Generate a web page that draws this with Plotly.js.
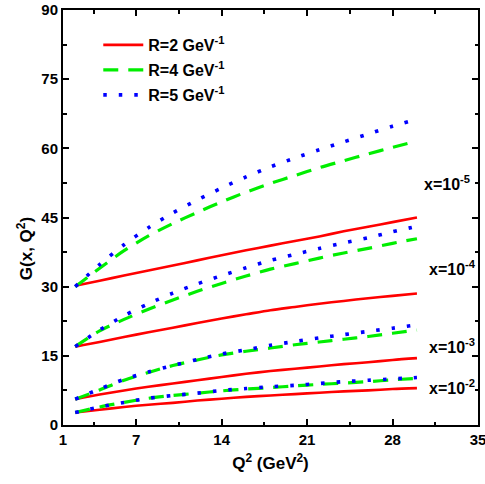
<!DOCTYPE html>
<html><head><meta charset="utf-8">
<script src="https://cdn.plot.ly/plotly-3.0.1.min.js"></script>
<style>html,body{margin:0;padding:0;background:#fff}#c{width:485px;height:484px}</style>
</head><body><div id="c"></div>
<script>
const Q2 = [2,4,6,8,10,12,14,16,18,20,22,24,26,28,30];

// x = 1e-5
const R2_x5 = [30.2,31.3,32.4,33.5,34.6,35.7,36.8,37.9,38.9,39.9,40.9,42.0,43.0,44.0,45.0];
const R4_x5 = [30.0,34.0,37.8,41.0,43.7,46.1,48.4,50.5,52.4,54.1,55.8,57.3,58.8,60.2,61.6];
const R5_x5 = [30.0,34.8,39.1,42.8,46.0,48.8,51.4,53.8,56.0,57.9,59.7,61.4,63.1,64.8,66.3];
// x = 1e-4
const R2_x4 = [17.0,18.0,19.1,20.1,21.1,22.1,23.1,24.0,24.9,25.6,26.3,26.9,27.5,28.0,28.5];
const R4_x4 = [17.0,20.4,22.9,25.1,27.1,29.0,30.7,32.3,33.8,35.0,36.2,37.3,38.3,39.4,40.4];
const R5_x4 = [17.0,20.6,23.7,26.3,28.6,30.6,32.4,34.1,35.7,37.0,38.3,39.5,40.6,41.9,43.1];
// x = 1e-3
const R2_x3 = [5.6,6.6,7.5,8.3,9.0,9.7,10.4,11.1,11.7,12.2,12.7,13.2,13.6,14.1,14.5];
const R4_x3 = [5.6,7.6,9.7,11.4,12.9,14.1,15.2,16.0,16.7,17.4,18.0,18.6,19.2,19.9,20.6];
const R5_x3 = [5.6,7.8,9.9,11.5,12.9,14.2,15.4,16.3,17.3,18.1,18.9,19.6,20.3,21.0,21.7];
// x = 1e-2
const R2_x2 = [2.7,3.3,3.9,4.4,4.8,5.3,5.7,6.1,6.4,6.7,7.0,7.3,7.5,7.8,8.0];
const R4_x2 = [2.7,3.9,4.9,5.8,6.4,6.9,7.4,7.8,8.1,8.5,8.8,9.1,9.4,9.8,10.1];
const R5_x2 = [2.7,3.9,4.9,5.8,6.4,6.9,7.5,7.9,8.3,8.6,9.0,9.4,9.7,10.0,10.3];

const seriesNames = ['R=2 GeV<sup>-1</sup>','R=4 GeV<sup>-1</sup>','R=5 GeV<sup>-1</sup>'];
const xLabels = ['x=10<sup>-5</sup>','x=10<sup>-4</sup>','x=10<sup>-3</sup>','x=10<sup>-2</sup>'];
const xLabelPos = [[32.5,52.5],[32.9,34.0],[32.9,17.1],[32.9,8.2]];
const xTickVals = [1,7,14,21,28,35];
const xTickText = ['1','7','14','21','28','35'];
const yTitle = 'G(x, Q<sup>2</sup>)';
const xTitle = 'Q<sup>2</sup> (GeV<sup>2</sup>)';

const groups = [
  [R2_x5,R4_x5,R5_x5],
  [R2_x4,R4_x4,R5_x4],
  [R2_x3,R4_x3,R5_x3],
  [R2_x2,R4_x2,R5_x2]
];
const styles = [
  {color:'#ff0000', width:2.6, dash:'solid'},
  {color:'#00ee00', width:3.2, dash:'15px,10px'},
  {color:'#0000ff', width:3.6, dash:'3.5px,12px'}
];
const legendIds = ['legend','legend2','legend3'];

const traces = [];
groups.forEach((g,gi)=>{
  [0,1,2].forEach(si=>{
    traces.push({
      x:Q2, y:g[si], type:'scatter', mode:'lines',
      line:Object.assign({shape:'spline', smoothing:0.8}, styles[si]),
      name:seriesNames[si], showlegend: gi===0, legend: legendIds[si],
      hoverinfo:'skip'
    });
  });
});

const fontFam = '"Liberation Sans", Arial, sans-serif';
const axBase = {
  showgrid:false, zeroline:false, showline:true, linecolor:'#000', linewidth:2,
  mirror:'allticks', ticks:'inside', ticklen:6, tickwidth:2, tickcolor:'#000',
  ticklabeloverflow:'allow',
  tickfont:{family:fontFam, size:15, color:'#000', weight:700}
};
const legFont = {family:fontFam, size:16, color:'#000', weight:700};
const legY = [0.9157, 0.8554, 0.7952];
const mkLeg = y => ({x:0.085, y:y, xanchor:'left', yanchor:'middle', bgcolor:'rgba(0,0,0,0)',
  font:legFont, itemwidth:40});

const annots = xLabels.map((t,i)=>({
  x:xLabelPos[i][0], y:xLabelPos[i][1], xref:'x', yref:'y', text:t, showarrow:false,
  font:{family:fontFam, size:16, color:'#000', weight:700}
}));
annots.push({
  x:-0.0916, y:0.426, xref:'paper', yref:'paper', text:yTitle, textangle:-90,
  showarrow:false, xanchor:'center', yanchor:'middle',
  font:{family:fontFam, size:17, color:'#000', weight:700}
});

const layout = {
  width:485, height:484,
  margin:{l:63, r:7, t:10, b:59},
  paper_bgcolor:'#fff', plot_bgcolor:'#fff',
  showlegend:true,
  legend:mkLeg(legY[0]), legend2:mkLeg(legY[1]), legend3:mkLeg(legY[2]),
  xaxis:Object.assign({}, axBase, {
    range:[1,35.002], tickmode:'array', tickvals:xTickVals, ticktext:xTickText,
    minor:{tick0:0, dtick:3.5, ticks:'inside', ticklen:3.5, tickwidth:2, tickcolor:'#000'},
    title:{text:xTitle, font:{family:fontFam, size:17, color:'#000', weight:700}, standoff:10}
  }),
  yaxis:Object.assign({}, axBase, {
    range:[0,90], tick0:0, dtick:15,
    minor:{dtick:7.5, ticks:'inside', ticklen:3.5, tickwidth:2, tickcolor:'#000'}
  }),
  annotations: annots
};

Plotly.newPlot('c', traces, layout, {staticPlot:true, displayModeBar:false});
</script></body></html>
